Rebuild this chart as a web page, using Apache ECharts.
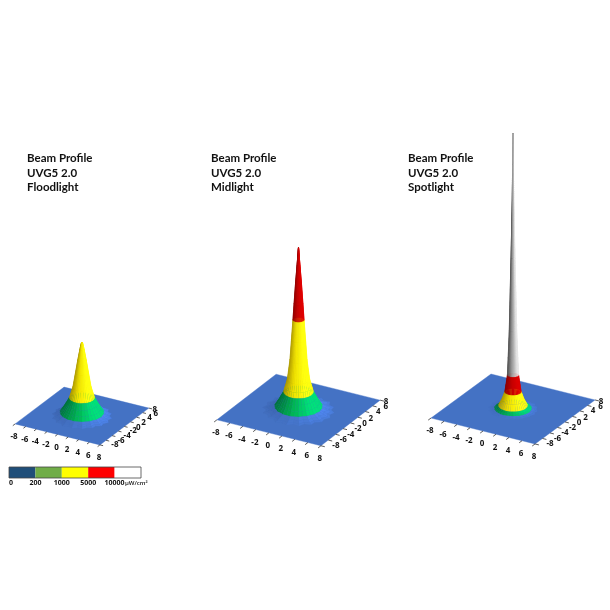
<!DOCTYPE html>
<html><head><meta charset="utf-8">
<style>html,body{margin:0;padding:0;background:#fff}#c{width:610px;height:610px}</style>
<script src="https://cdn.jsdelivr.net/npm/echarts@6/dist/echarts.min.js"></script>
</head><body><div id="c"></div>
<script>
// ---------- data ----------
const tickValues = [-8,-6,-4,-2,0,2,4,6,8];
const legendBreaks = [0,200,1000,5000,10000];
const legendUnit = 'µW/cm²';
const panelNames = ['Floodlight','Midlight','Spotlight'];

// radial beam profiles: radius (axis units) and irradiance (µW/cm²)
const floodRadius = [0,.1,.22,.35,.7,1.07,1.5,2.07,2.6,3.1,3.6,4.0,4.3,4.7];
const floodValue  = [4100,4050,3900,3700,3100,2400,1600,1000,680,420,200,110,50,0];
const midRadius = [0,.2,.4,.6,.75,.95,1.15,1.5,1.8,2.0,2.4,2.8,3.2,3.7,4.2,4.6];
const midValue  = [9050,8050,7050,5900,5000,3900,2780,1700,1280,1000,700,420,200,100,30,0];
const spotRadius = [0,.05,.1,.27,.5,.65,.75,.95,1.1,1.5,1.95,2.2,2.5,2.9,3.2];
const spotValue  = [81000,72000,61500,44400,23200,15000,10000,7000,5000,2700,1000,500,200,60,0];

// spoke-to-spoke unevenness of the measured surface
const spokeRipple = [.9,-.7,.8,-.9,.6,-.8,1,-.6,.7,-1,.9,-.5,.8,-.8,.6,-.9,1,-.7,
                     .8,-.6,.9,-1,.7,-.8,.5,-.9,1,-.6,.8,-.7,.9,-.8,.6,-1,.7,-.6];

// ---------- layout and styles ----------
const panels = [
  {name:panelNames[0], radius:floodRadius, value:floodValue, c:[82,416],  ux:[5.3,1.31], uy:[3.06,-2.3],  s:.018,  tx:27,  ty:151, rip:1},
  {name:panelNames[1], radius:midRadius,   value:midValue,   c:[298.5,410],ux:[6.5,1.62], uy:[3.7,-2.85], s:.018,  tx:211, ty:151, rip:1},
  {name:panelNames[2], radius:spotRadius,  value:spotValue,  c:[513,409], ux:[6.5,1.62], uy:[3.75,-2.75],s:.0034, tx:408, ty:151, rip:.7}
];
const xLabelOffset = [-1,13];
const yLabelOffsetX = [15,15,15,15,14,13,13,13,6];
const yLabelOffsetY = [0,0,0,0,1,1,0,1,1.5];
const FLOOR = '#4472C4';
const bandShades = [
  ['#3C63AE','#4472C4','#4F86EE'],   // below 200
  ['#00733C','#00B050','#00E27A'],   // 200-1000
  ['#A89400','#EFE000','#FFFF10'],   // 1000-5000
  ['#8E0000','#C00000','#DE0000'],   // 5000-10000
  ['#555555','#9E9E9E','#E6E6E6']    // above 10000
];
const bandBias = [0,0,.1,0,-.15];
const legendColors = ['#1F4E79','#70AD47','#FFFF00','#FF0000','#FFFFFF'];
const legendBox = {x:9, y:467, segW:26.4, h:11};
const FONT = 'Lato, "Open Sans", sans-serif';
const TICKFONT = '"Open Sans", Lato, sans-serif';

function band(v){ let b=0; for(let i=1;i<legendBreaks.length;i++) if(v>=legendBreaks[i]) b=i; return b; }
function hex(h){ return [1,3,5].map(i=>parseInt(h.substr(i,2),16)); }
function mix(a,b,t){ const A=hex(a),B=hex(b); return 'rgb('+A.map((v,i)=>Math.round(v+(B[i]-v)*t)).join(',')+')'; }
function shade(bi,s){ const c=bandShades[bi]; s+=bandBias[bi]; return s<0?mix(c[1],c[0],Math.min(1,-s)):mix(c[1],c[2],Math.min(1,s)); }

function buildQuads(p){
  const N=spokeRipple.length, rows=[], M=p.radius.length;
  const amp=j=>{ const v=p.value[j]; return v>=1000?0.004:v>=200?0.015:0.06; };
  const pt=(i,j)=>{ const t=(i%N)/N*2*Math.PI, r=p.radius[j]*(1+amp(j)*p.rip*spokeRipple[i%N]);
    return [r*Math.cos(t), r*Math.sin(t), p.value[j]]; };
  const nrm=Math.hypot(p.uy[1],p.ux[1]);
  const right=[-p.uy[1]/nrm,p.ux[1]/nrm];      // floor direction drawn to screen right
  const nr2=Math.hypot(p.uy[0],p.ux[0]);
  const front=[p.uy[0]/nr2,-p.ux[0]/nr2];      // floor direction drawn to screen bottom
  const zk=p.s/3;
  const light=n=>(n[0]*right[0]+n[1]*right[1])*1.15+(n[0]*front[0]+n[1]*front[1])*.25+.12;
  for(let i=0;i<N;i++) for(let j=0;j<M-1;j++){
    const a=pt(i,j),b=pt(i+1,j),c=pt(i+1,j+1),d=pt(i,j+1);
    const e1=[c[0]-a[0],c[1]-a[1],(c[2]-a[2])*zk], e2=[d[0]-b[0],d[1]-b[1],(d[2]-b[2])*zk];
    let n=[e1[1]*e2[2]-e1[2]*e2[1], e1[2]*e2[0]-e1[0]*e2[2], e1[0]*e2[1]-e1[1]*e2[0]];
    const l=Math.hypot(n[0],n[1],n[2])||1; n=n.map(v=>v/l); if(n[2]<0) n=n.map(v=>-v);
    const tm=(i+.5)/N*2*Math.PI, dr=p.radius[j+1]-p.radius[j], dz=(p.value[j]-p.value[j+1])*zk, L=Math.hypot(dr,dz)||1;
    const smooth=[Math.cos(tm)*dz/L,Math.sin(tm)*dz/L,dr/L];
    const s=.72*light(smooth)+.28*light(n);
    const depth=(a[0]+b[0]+c[0]+d[0])/4*front[0]+(a[1]+b[1]+c[1]+d[1])/4*front[1];
    rows.push({depth,row:[...a,...b,...c,...d,band((p.value[j]+p.value[j+1])/2),s]});
  }
  rows.sort((u,v)=>u.depth-v.depth);
  return rows.map(r=>r.row);
}

function project(p,x,y,z){ return [p.c[0]+x*p.ux[0]+y*p.uy[0], p.c[1]+x*p.ux[1]+y*p.uy[1]-z*p.s]; }

const series=[];
panels.forEach(p=>{
  const lo=tickValues[0], hi=tickValues[tickValues.length-1];
  series.push({type:'custom',coordinateSystem:'cartesian2d',silent:true,clip:false,animation:false,z:2,
    data:[[lo,lo,hi,hi]],
    renderItem:(o,api)=>{
      const pts=[[lo,lo],[hi,lo],[hi,hi],[lo,hi]].map(q=>api.coord(project(p,q[0],q[1],0)));
      return {type:'polygon',shape:{points:pts},style:{fill:FLOOR,stroke:FLOOR,lineWidth:.4}};
    }});
  const axisRows=[]; tickValues.forEach((t,k)=>{axisRows.push([0,t,k]);axisRows.push([1,t,k]);});
  series.push({type:'custom',coordinateSystem:'cartesian2d',silent:true,clip:false,animation:false,z:3,
    data:axisRows,
    renderItem:(o,api)=>{
      const ax=api.value(0), t=api.value(1), k=api.value(2);
      const a=ax===0?project(p,t,lo,0):project(p,hi,t,0);
      const b=ax===0?project(p,t,lo-.75,0):project(p,hi+.6,t,0);
      const A=api.coord(a),B=api.coord(b);
      const off=ax===0?xLabelOffset:[yLabelOffsetX[k],yLabelOffsetY[k]];
      const L=api.coord([a[0]+off[0],a[1]+off[1]]);
      return {type:'group',children:[
        {type:'line',shape:{x1:A[0],y1:A[1],x2:B[0],y2:B[1]},style:{stroke:'#333',lineWidth:.8}},
        {type:'text',style:{text:String(t),x:L[0],y:L[1],fill:'#111',align:'center',verticalAlign:'middle',
          textAlign:'center',textVerticalAlign:'middle',font:'700 8px '+TICKFONT}}
      ]};
    }});
  series.push({type:'custom',coordinateSystem:'cartesian2d',silent:true,clip:false,animation:false,z:4,
    progressive:0,
    data:buildQuads(p),
    renderItem:(o,api)=>{
      const pts=[0,3,6,9].map(i=>api.coord(project(p,api.value(i),api.value(i+1),api.value(i+2))));
      const col=shade(api.value(12),api.value(13));
      return {type:'polygon',shape:{points:pts},style:{fill:col,stroke:col,lineWidth:.2}};
    }});
});
series.push({type:'custom',coordinateSystem:'cartesian2d',silent:true,clip:false,animation:false,z:5,
  data:legendBreaks.map((b,i)=>[i,b]),
  renderItem:(o,api)=>{
    const i=api.value(0), b=api.value(1), B=legendBox;
    const P=api.coord([B.x+i*B.segW,B.y]);
    const kids=[{type:'rect',shape:{x:P[0],y:P[1],width:B.segW,height:B.h},style:{fill:legendColors[i]}},
      {type:'text',style:{text:String(b),x:P[0]+(i?0:2),y:P[1]+B.h+5,fill:'#111',align:'center',verticalAlign:'middle',
        textAlign:'center',textVerticalAlign:'middle',font:'700 7px '+TICKFONT}}];
    return {type:'group',children:kids};
  }});
series.push({type:'custom',coordinateSystem:'cartesian2d',silent:true,clip:false,animation:false,z:6,
  data:[[0]],
  renderItem:(o,api)=>{
    const B=legendBox, P=api.coord([B.x,B.y]), w=B.segW*legendColors.length;
    return {type:'group',children:[
      {type:'rect',shape:{x:P[0],y:P[1],width:w,height:B.h},style:{fill:'none',stroke:'#444',lineWidth:.8}},
      {type:'text',style:{text:legendUnit,x:P[0]+116,y:P[1]+B.h+5,fill:'#111',align:'left',verticalAlign:'middle',
        textAlign:'left',textVerticalAlign:'middle',font:'600 6px '+TICKFONT}}
    ]};
  }});

const chart=echarts.init(document.getElementById('c'),null,{renderer:'canvas'});
chart.setOption({
  animation:false, backgroundColor:'#fff',
  title:panels.map(p=>({text:'Beam Profile\nUVG5 2.0\n'+p.name,left:p.tx,top:p.ty,padding:0,
    textStyle:{fontFamily:FONT,fontWeight:700,fontSize:11.5,lineHeight:14.7,color:'#111'}})),
  grid:{left:0,top:0,width:610,height:610},
  xAxis:{type:'value',min:0,max:610,show:false},
  yAxis:{type:'value',min:0,max:610,inverse:true,show:false},
  series
});
</script></body></html>
